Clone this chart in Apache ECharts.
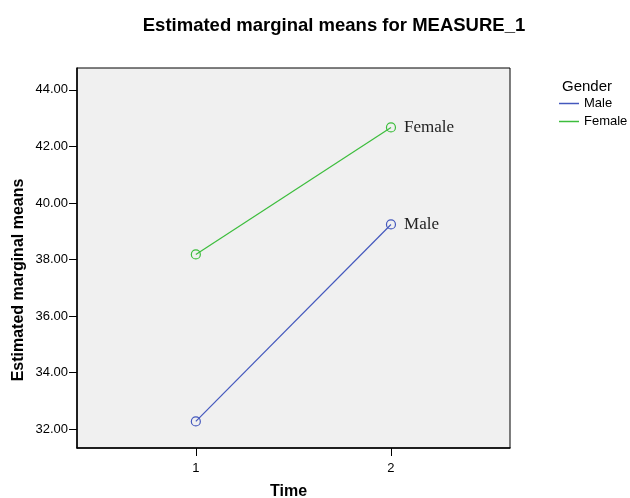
<!DOCTYPE html>
<html>
<head>
<meta charset="utf-8">
<script src="https://cdn.jsdelivr.net/npm/echarts@6/dist/echarts.min.js"></script>
<style>
  html, body { margin: 0; padding: 0; background: #fff; }
  #chart { width: 630px; height: 498px; }
</style>
</head>
<body>
<div id="chart"></div>
<script>
// data
const timePoints = [1, 2];
const maleMeans = [32.28, 39.24];
const femaleMeans = [38.18, 42.67];
const yTicks = [32, 34, 36, 38, 40, 42, 44];

const blue = '#4458bd';
const green = '#3cbd3c';
const sans = 'Liberation Sans, Arial';

// 初始化
const myChart = echarts.init(document.getElementById('chart'));

function makeData(vals, name) {
	return vals.map(function (v, i) {
		const item = { value: [timePoints[i], v] };
		if (i === vals.length - 1) {
			item.label = {
				show: true,
				position: 'right',
				distance: 8,
				formatter: name,
				fontFamily: 'Liberation Serif, DejaVu Serif, serif',
				fontSize: 17,
				color: '#222'
			};
		}
		return item;
	});
}

let option = {
	animation: false,
	title: {
		text: 'Estimated marginal means for MEASURE_1',
		left: 329,
		textAlign: 'center',
		top: 11,
		textStyle: { fontFamily: sans, fontWeight: 'bold', fontSize: 18.5, color: '#000' }
	},
	graphic: [
		{
			type: 'text',
			left: 562,
			top: 79,
			style: { text: 'Gender', fontFamily: sans, fontSize: 15, fill: '#000' }
		},
		{
			type: 'text',
			x: 19,
			y: 280,
			rotation: Math.PI / 2,
			style: { text: 'Estimated marginal means', fontFamily: sans, fontWeight: 'bold', fontSize: 16, fill: '#000', align: 'center', verticalAlign: 'middle' }
		},
		{
			type: 'text',
			x: 288.5,
			y: 492,
			style: { text: 'Time', fontFamily: sans, fontWeight: 'bold', fontSize: 16, fill: '#000', align: 'center', verticalAlign: 'middle' }
		}
	],
	legend: {
		orient: 'vertical',
		left: 554,
		top: 92,
		itemGap: 5,
		itemWidth: 20,
		itemHeight: 1.5,
		icon: 'rect',
		textStyle: { fontFamily: sans, fontSize: 13, color: '#000' },
		data: [
			{ name: 'Male', itemStyle: { color: blue, borderWidth: 0 } },
			{ name: 'Female', itemStyle: { color: green, borderWidth: 0 } }
		]
	},
	grid: {
		left: 77,
		top: 68,
		right: 120,
		bottom: 50,
		outerBoundsMode: 'none',
		show: true,
		backgroundColor: '#f0f0f0',
		borderColor: '#000',
		borderWidth: 1
	},
	xAxis: {
		type: 'value',
		min: 0.391,
		max: 2.61,
		splitLine: { show: false },
		axisLine: { show: true, onZero: false, lineStyle: { color: '#000', width: 1.5 } },
		axisTick: { show: true, length: 8, customValues: timePoints, lineStyle: { color: '#000' } },
		axisLabel: { customValues: timePoints, margin: 14, fontFamily: sans, fontSize: 13, color: '#000' }
	},
	yAxis: {
		type: 'value',
		min: 31.34,
		max: 44.77,
		splitLine: { show: false },
		axisLine: { show: true, onZero: false, lineStyle: { color: '#000', width: 1.5 } },
		axisTick: { show: true, length: 8, customValues: yTicks, lineStyle: { color: '#000' } },
		axisLabel: {
			customValues: yTicks,
			margin: 9,
			fontFamily: sans,
			fontSize: 13,
			color: '#000',
			formatter: function (v) { return v.toFixed(2); }
		}
	},
	series: [
		{
			name: 'Male',
			type: 'line',
			data: makeData(maleMeans, 'Male'),
			symbol: 'circle',
			symbolSize: 9,
			color: blue,
			lineStyle: { width: 1.2, color: blue },
			itemStyle: { color: 'rgba(0,0,0,0)', borderColor: blue, borderWidth: 1.2 }
		},
		{
			name: 'Female',
			type: 'line',
			data: makeData(femaleMeans, 'Female'),
			symbol: 'circle',
			symbolSize: 9,
			color: green,
			lineStyle: { width: 1.2, color: green },
			itemStyle: { color: 'rgba(0,0,0,0)', borderColor: green, borderWidth: 1.2 }
		}
	]
};

myChart.setOption(option);
</script>
</body>
</html>
